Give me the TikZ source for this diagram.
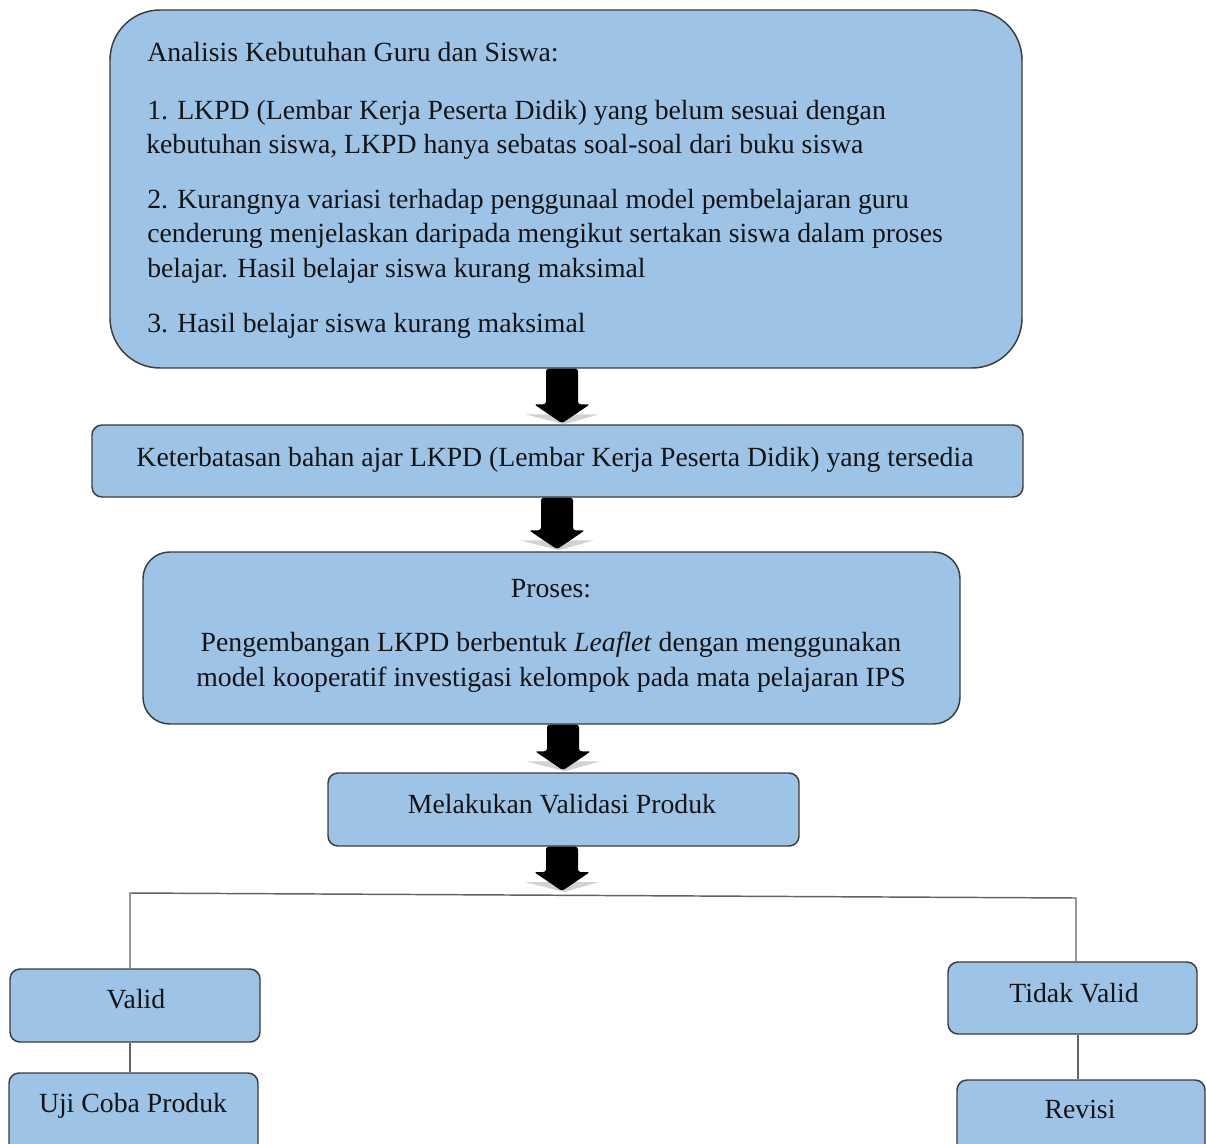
\documentclass[tikz,border=0pt]{standalone}
\usepackage{fontspec}
\setmainfont{Liberation Serif}
\usetikzlibrary{calc}
\definecolor{boxfill}{RGB}{157,195,230}
\definecolor{boxdraw}{RGB}{60,60,60}
\definecolor{txtcol}{RGB}{20,20,20}
\newcommand\blockarrow[2]{%
  \fill[gray!35] ($(#2)+(-37,-9)$) -- ($(#2)+(37,-9)$) -- ($(#2)+(2,1)$) -- cycle;
  \fill[black, rounded corners=2pt] ($(#1)+(-16,0)$) -- ($(#1)+(16,0)$) -- ($(#2)+(16,-19)$) -- ($(#2)+(28,-19)$) -- (#2) -- ($(#2)+(-28,-19)$) -- ($(#2)+(-16,-19)$) -- cycle;
}
\tikzset{
  box/.style={draw=boxdraw, fill=boxfill, line width=1.1pt, inner sep=0pt},
  txt/.style={inner sep=0pt, text=txtcol, font=\fontsize{20.8}{25}\selectfont},
  conn/.style={draw=boxdraw!80, line width=1.1pt},
}
\begin{document}
\begin{tikzpicture}[x=0.75pt,y=-0.75pt]
\path[use as bounding box] (0,0) rectangle (1206,1144);
\clip (0,0) rectangle (1206,1144);
\fill[white] (0,0) rectangle (1206,1144);

% boxes
\node[box, rounded corners=37.5pt, minimum width=684pt, minimum height=268.5pt] (b1) at (566,189) {};
\node[box, rounded corners=7.5pt, minimum width=698.25pt, minimum height=54pt] (b2) at (557.5,461) {};
\node[box, rounded corners=20pt, minimum width=612.75pt, minimum height=129pt] (b3) at (551.5,638) {};
\node[box, rounded corners=7.5pt, minimum width=353.25pt, minimum height=54.75pt] (b4) at (563.5,809.5) {};
\node[box, rounded corners=7.5pt, minimum width=187.5pt, minimum height=54.75pt] (valid) at (135,1005.5) {};
\node[box, rounded corners=7.5pt, minimum width=186.75pt, minimum height=65.25pt] (uji) at (133.5,1116.5) {};
\node[box, rounded corners=7.5pt, minimum width=186.75pt, minimum height=54pt] (tidak) at (1072.5,998) {};
\node[box, rounded corners=7.5pt, minimum width=186pt, minimum height=60pt] (revisi) at (1081,1120) {};

% arrow x positions and junctions
\coordinate (ax1) at (562,0);
\coordinate (ax2) at (557,0);
\coordinate (ax3) at (563,0);
\coordinate (ax4) at (562,0);
\coordinate (jl) at (130,893);
\coordinate (jr) at (1076,898);
\coordinate (jr2) at (1078,0);
\coordinate (j4) at (562,891);

\blockarrow{b1.south -| ax1}{$(b2.north -| ax1)+(0,-1)$}
\blockarrow{b2.south -| ax2}{$(b3.north -| ax2)+(0,-2)$}
\blockarrow{b3.south -| ax3}{$(b4.north -| ax3)+(0,-2)$}
\blockarrow{b4.south -| ax4}{j4}

% connectors
\draw[conn] (valid.north -| jl) -- (jl) -- (jr) -- (tidak.north -| jr);
\draw[conn] (valid.south -| jl) -- (uji.north -| jl);
\draw[conn] (tidak.south -| jr2) -- (revisi.north -| jr2);

% texts box 1
\node[txt, anchor=base west] (t0) at (147,62) {Analisis Kebutuhan Guru dan Siswa:};
\node[txt, anchor=base west] (t1) at (147,120) {1. LKPD (Lembar Kerja Peserta Didik) yang belum sesuai dengan};
\node[txt, anchor=base west] (t2) at (146,154) {kebutuhan siswa, LKPD hanya sebatas soal-soal dari buku siswa};
\node[txt, anchor=base west] (t3) at (147,209) {2. Kurangnya variasi terhadap penggunaal model pembelajaran guru};
\node[txt, anchor=base west] (t4) at (147,243) {cenderung menjelaskan daripada mengikut sertakan siswa dalam proses};
\node[txt, anchor=base west] (t5) at (147,278) {belajar. Hasil belajar siswa kurang maksimal};
\node[txt, anchor=base west] (t6) at (147,333) {3. Hasil belajar siswa kurang maksimal};

% box 2
\node[txt, anchor=base] (t7) at (555,466) {Keterbatasan bahan ajar LKPD (Lembar Kerja Peserta Didik) yang tersedia};
% box 3
\node[txt, anchor=base] (t8) at (551,597) {Proses:};
\node[txt, anchor=base] (t9) at (551,651) {Pengembangan LKPD berbentuk \textit{Leaflet} dengan menggunakan};
\node[txt, anchor=base] (t10) at (551,686) {model kooperatif investigasi kelompok pada mata pelajaran IPS};
% box 4
\node[txt, anchor=base] (t11) at (562,813) {Melakukan Validasi Produk};
% bottom
\node[txt, anchor=base] (t12) at (136,1008) {Valid};
\node[txt, anchor=base] (t13) at (133,1112) {Uji Coba Produk};
\node[txt, anchor=base] (t14) at (1074,1002) {Tidak Valid};
\node[txt, anchor=base] (t15) at (1080,1118) {Revisi};
\end{tikzpicture}
\end{document}
